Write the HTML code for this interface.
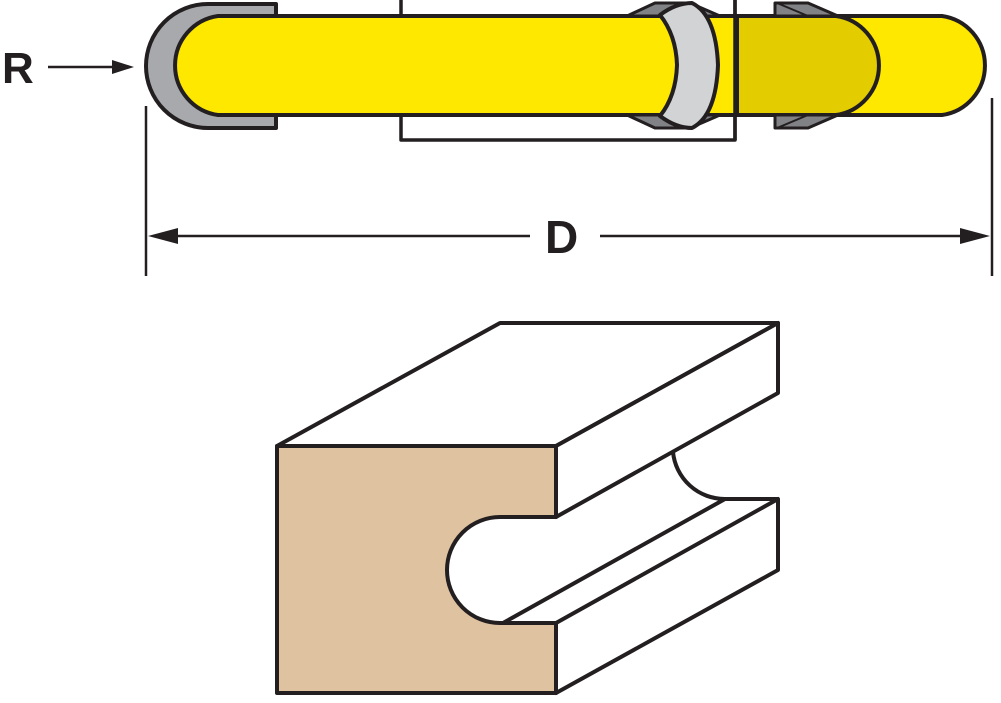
<!DOCTYPE html>
<html><head><style>html,body{margin:0;padding:0;background:#fff;width:1001px;height:703px;overflow:hidden}</style></head>
<body>
<svg width="1001" height="703" viewBox="0 0 1001 703" xmlns="http://www.w3.org/2000/svg">
<g stroke="#231f20" stroke-width="4" stroke-linejoin="round">
<polyline points="401,0 401,140 735,140 735,0" fill="none" stroke-width="3.5"/>
<path d="M276,4 L208,4 A62,62 0 0 0 208,128 L276,128 Z" fill="#a7a9ac"/>
<path d="M218,16 L942,16 A50,50 0 0 1 942,115 L218,115 A50,50 0 0 1 218,16 Z" fill="#ffe800"/>
<path d="M737,16 L836,16 A50,50 0 0 1 836,115 L737,115 Z" fill="#e3cd00"/>
<line x1="735" y1="0" x2="735" y2="140" stroke-width="3.5"/>
<path d="M627,16 L655,3 L690,3 L720,16 Z" fill="#808285" stroke-width="3"/>
<path d="M627,115 L655,128 L690,128 L720,115 Z" fill="#808285" stroke-width="3"/>
<path d="M660,15 Q676,3 692,3 Q716,15 718,65 Q716,116 692,128 Q676,128 660,116 Q676,96 677,65 Q676,35 660,15 Z" fill="#d1d3d4"/>
<path d="M775,3 L808,3 L838,16 L775,16 Z" fill="#808285" stroke-width="3"/>
<path d="M775,115 L838,115 L808,128 L775,128 Z" fill="#808285" stroke-width="3"/>
<line x1="777" y1="3" x2="808" y2="16" stroke-width="2"/>
<line x1="777" y1="128" x2="808" y2="115" stroke-width="2"/>
</g>
<g stroke="#231f20" stroke-width="2.5" fill="#231f20">
<line x1="146" y1="106" x2="146" y2="276"/>
<line x1="992" y1="98" x2="992" y2="276"/>
<line x1="160" y1="236" x2="530" y2="236"/>
<line x1="600" y1="236" x2="980" y2="236"/>
<polygon points="148,236 178,228 178,244" stroke="none"/>
<polygon points="990,236 960,228 960,244" stroke="none"/>
<line x1="48" y1="67" x2="118" y2="67"/>
<polygon points="134,67 112,60 112,74" stroke="none"/>
</g>
<text x="2" y="83" font-family="Liberation Sans, sans-serif" font-weight="bold" font-size="44" fill="#231f20">R</text>
<text x="545" y="253" font-family="Liberation Sans, sans-serif" font-weight="bold" font-size="46" fill="#231f20">D</text>
<g stroke="#231f20" stroke-width="4" stroke-linejoin="round" fill="#fff">
<polygon points="277,446 500,323 778,323 556,446"/>
<polygon points="556,446 778,323 778,393 556,517"/>
<path d="M673,452 A52,52 0 0 0 725,499" fill="none"/>
<line x1="503" y1="623" x2="725" y2="499"/>
<polygon points="556,623 778,499 778,570 556,693"/>
<line x1="725" y1="499" x2="778" y2="499"/>
<path d="M277,446 L556,446 L556,517 L500,517 A53,53 0 0 0 500,623 L556,623 L556,693 L277,693 Z" fill="#dfc29f"/>
</g>
</svg>
</body></html>
